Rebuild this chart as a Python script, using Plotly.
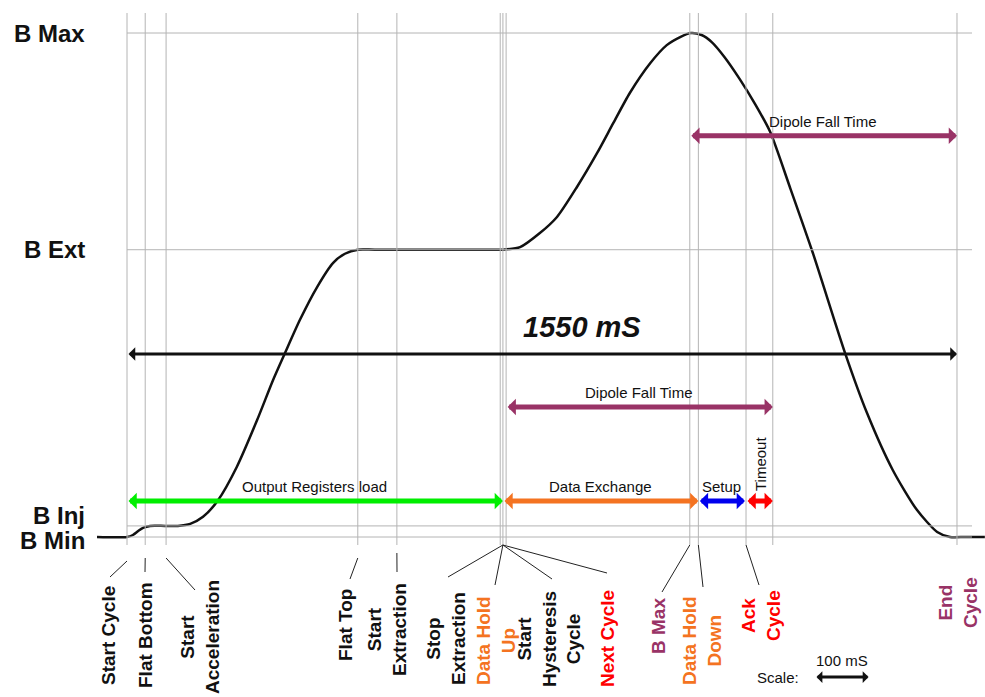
import plotly.graph_objects as go

# ---------------- data ----------------
# Field levels (normalised, B Max = 1)
level_names = ["B Max", "B Ext", "B Inj", "B Min"]
level_values = [1.0, 0.57, 0.022, 0.0]

# Magnetic cycle (time in ms, B normalised)
curve_t = [-56, 0, 11, 21, 30, 43, 71, 95, 118, 142, 170, 205, 243, 273, 295,
           323, 355, 385, 407, 431, 463, 659, 702, 734, 771, 803, 840, 878,
           908, 939, 977, 1008, 1033, 1053, 1073, 1092, 1116, 1144, 1173,
           1201, 1238, 1281, 1341, 1382, 1430, 1475, 1513, 1537, 1565, 1602]
curve_b = [0.0, 0.0, 0.004, 0.012, 0.018, 0.022, 0.022, 0.022, 0.026, 0.040,
           0.073, 0.139, 0.232, 0.312, 0.365, 0.431, 0.496, 0.544, 0.562,
           0.57, 0.57, 0.57, 0.57, 0.575, 0.603, 0.635, 0.694, 0.762, 0.821,
           0.881, 0.940, 0.976, 0.992, 1.0, 0.996, 0.982, 0.952, 0.909, 0.859,
           0.804, 0.694, 0.563, 0.365, 0.246, 0.133, 0.054, 0.010, 0.0, 0.0,
           0.0]

# Cycle events (ms)
event_names = ["Start Cycle", "Flat Bottom", "Start Acceleration", "Flat Top",
               "Start Extraction", "Stop Extraction", "Data Hold Up",
               "Start Hysteresis Cycle", "B Max", "Data Hold Down",
               "Ack Cycle", "Timeout", "End Cycle"]
event_t = [0, 34, 73, 431, 504, 697, 702, 708, 1051, 1067, 1156, 1206, 1550]

# Intervals (ms)
interval_names = ["Output Registers load", "Data Exchange", "Setup", "Timeout",
                  "Dipole Fall Time", "Dipole Fall Time", "1550 mS"]
interval_start = [0, 702, 1067, 1156, 708, 1051, 0]
interval_end = [702, 1067, 1154, 1206, 1206, 1550, 1550]

scale_ms = 100

# ---------------- layout helpers ----------------
W, H = 985, 697
X_RANGE = [-237.17, 1602.3]
Y_RANGE = [-0.31746, 1.06548]


def px_x(px):
    return X_RANGE[0] + px / W * (X_RANGE[1] - X_RANGE[0])


def px_y(py):
    return Y_RANGE[1] - py / H * (Y_RANGE[1] - Y_RANGE[0])


BLACK = "#111111"
ORANGE = "#F47321"
RED = "#FF0000"
PURPLE = "#993366"
GREEN = "#00EE00"
BLUE = "#0000EE"
GRID = "#b4b4b4"
FONT = "Liberation Sans"

fig = go.Figure()

shapes = []
# vertical event lines
for t in event_t:
    shapes.append(dict(type="line", xref="x", yref="y", x0=t, x1=t,
                       y0=px_y(545), y1=px_y(13),
                       line=dict(color=GRID, width=1)))
# horizontal level lines
for v in level_values:
    shapes.append(dict(type="line", xref="x", yref="y", x0=0, x1=px_x(972),
                       y0=v, y1=v, line=dict(color=GRID, width=1)))

# leader lines: (event index, top py, bottom px, bottom py)
leaders = [
    (0, 561, 110, 577),
    (1, 558, 145, 572),
    (2, 558, 195, 590),
    (3, 558, 350, 579),
    (4, 553, 397, 572),
    (6, 545, 448, 577),
    (6, 545, 495, 585),
    (6, 545, 552, 579),
    (6, 545, 607, 573),
    (8, 545, 662, 592),
    (9, 545, 703, 587),
    (10, 545, 759, 585),
]
for idx, ty, bx, by in leaders:
    shapes.append(dict(type="line", xref="x", yref="y", x0=event_t[idx],
                       y0=px_y(ty), x1=px_x(bx), y1=px_y(by),
                       line=dict(color="#222222", width=1)))

# magnetic cycle curve
fig.add_trace(go.Scatter(x=curve_t, y=curve_b, mode="lines",
                         line=dict(color=BLACK, width=2.5, shape="spline",
                                   smoothing=0.7),
                         hoverinfo="skip", showlegend=False))

annotations = []

# level labels
for name, v in zip(level_names, level_values):
    yoff = {"B Inj": 10, "B Min": -3}.get(name, 0)
    annotations.append(dict(x=87 / W, xref="paper", y=v, yref="y",
                            text=name, showarrow=False, xanchor="right",
                            yanchor="middle", yshift=yoff,
                            font=dict(family=FONT, size=24, weight="bold",
                                      color=BLACK)))

# interval arrows
arrow_level = [0.0714, 0.0714, 0.0714, 0.0714, 0.258, 0.796, 0.363]
arrow_color = [GREEN, ORANGE, BLUE, RED, PURPLE, PURPLE, BLACK]
arrow_width = [5, 5, 5, 5, 5, 5, 3]
arrow_size = [0.55, 0.55, 0.55, 0.55, 0.55, 0.55, 0.75]
for s, e, lv, c, w, sz in zip(interval_start, interval_end, arrow_level,
                              arrow_color, arrow_width, arrow_size):
    annotations.append(dict(x=e, y=lv, ax=s, ay=lv, xref="x", yref="y",
                            axref="x", ayref="y", text="", showarrow=True,
                            arrowhead=1, startarrowhead=1,
                            arrowside="end+start", arrowsize=sz,
                            startarrowsize=sz, arrowwidth=w, arrowcolor=c,
                            standoff=0, startstandoff=0))

# interval labels
label_font = dict(family=FONT, size=15, color=BLACK)
for i, name in enumerate(interval_names):
    mid = (interval_start[i] + interval_end[i]) / 2
    lv = arrow_level[i]
    if name == "Timeout":
        annotations.append(dict(x=px_x(760), y=px_y(464), xref="x", yref="y",
                                text=name, showarrow=False, textangle=-90,
                                xanchor="center", yanchor="middle",
                                font=label_font))
    elif name == "1550 mS":
        annotations.append(dict(x=px_x(582), y=px_y(327), xref="x", yref="y",
                                text=name, showarrow=False, xanchor="center",
                                yanchor="middle",
                                font=dict(family=FONT, size=29, weight="bold",
                                          style="italic", color=BLACK)))
    else:
        annotations.append(dict(x=mid, y=lv, xref="x", yref="y", text=name,
                                showarrow=False, xanchor="center",
                                yanchor="bottom", yshift=4,
                                font=label_font))

# bottom (rotated) event labels: text, colour, centre px, centre py
bottom_labels = [
    ("Start Cycle", BLACK, 108, 636),
    ("Flat Bottom", BLACK, 145, 635),
    ("Start<br>Acceleration", BLACK, 200, 637),
    ("Flat Top", BLACK, 345, 625),
    ("Start<br>Extraction", BLACK, 387, 630),
    ("Stop<br>Extraction", BLACK, 446, 639),
    ("Data Hold<br>Up", ORANGE, 496, 641),
    ("Start<br>Hysteresis<br>Cycle", BLACK, 549, 639),
    ("Next Cycle", RED, 607, 639),
    ("B Max", PURPLE, 658, 626),
    ("Data Hold<br>Down", ORANGE, 702, 641),
    ("Ack<br>Cycle", RED, 761, 616),
    ("End<br>Cycle", PURPLE, 958, 603),
]
for txt, col, cx, cy in bottom_labels:
    annotations.append(dict(x=cx / W, y=1 - cy / H, xref="paper",
                            yref="paper", text=txt, showarrow=False,
                            textangle=-90, xanchor="center",
                            yanchor="middle", align="center",
                            font=dict(family=FONT, size=19, weight="bold",
                                      color=col)))

# scale bar
scale_y = -0.278
scale_x0 = px_x(815)
annotations.append(dict(x=scale_x0 + scale_ms, y=scale_y, ax=scale_x0,
                        ay=scale_y, xref="x", yref="y", axref="x",
                        ayref="y", text="", showarrow=True, arrowhead=1,
                        startarrowhead=1, arrowside="end+start",
                        arrowsize=0.65, startarrowsize=0.65, arrowwidth=3,
                        arrowcolor=BLACK, standoff=0, startstandoff=0))
annotations.append(dict(x=scale_x0 + scale_ms / 2, y=px_y(660), xref="x",
                        yref="y", text=f"{scale_ms} mS", showarrow=False,
                        xanchor="center", yanchor="middle", font=label_font))
annotations.append(dict(x=px_x(778), y=px_y(677), xref="x", yref="y",
                        text="Scale:", showarrow=False, xanchor="center",
                        yanchor="middle", font=label_font))

fig.update_layout(
    width=W, height=H,
    margin=dict(l=0, r=0, t=0, b=0),
    paper_bgcolor="white", plot_bgcolor="white",
    xaxis=dict(range=X_RANGE, visible=False, fixedrange=True),
    yaxis=dict(range=Y_RANGE, visible=False, fixedrange=True),
    shapes=shapes, annotations=annotations, showlegend=False,
)

fig.write_html("out.html", config={"displayModeBar": False},
               post_script="document.body.style.margin='0';")
